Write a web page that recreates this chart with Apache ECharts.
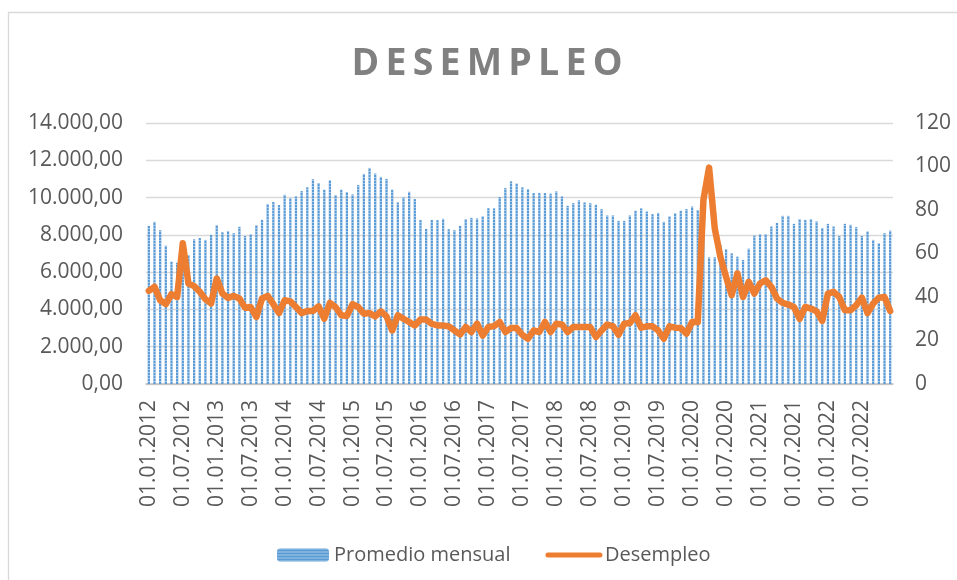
<!DOCTYPE html>
<html>
<head>
<meta charset="utf-8">
<title>DESEMPLEO</title>
<script src="https://cdn.jsdelivr.net/npm/echarts@6/dist/echarts.min.js"></script>
<style>
  html, body { margin: 0; padding: 0; background: #fff; }
  #chart { width: 957px; height: 580px; }
</style>
</head>
<body>
<div id="chart"></div>
<script>
// meses 01.01.2012 .. 01.12.2022
const months = [];
for (let y = 2012; y <= 2022; y++) {
  for (let m = 1; m <= 12; m++) {
    months.push('01.' + String(m).padStart(2, '0') + '.' + y);
  }
}

// Promedio mensual (eje izquierdo)
const promedioMensual = [
  8480, 8700, 8250, 7420, 6560, 6500, 6800, 6920, 7760, 7830, 7730, 8000,
  8520, 8140, 8210, 8090, 8430, 7940, 8030, 8520, 8800, 9650, 9760, 9600,
  10150, 9970, 10060, 10350, 10550, 10980, 10780, 10420, 10930, 10130, 10420, 10300,
  10170, 10670, 11270, 11590, 11290, 11110, 11000, 10420, 9740, 10010, 10310, 9920,
  8800, 8320, 8800, 8790, 8860, 8300, 8250, 8480, 8840, 8910, 8880, 8990,
  9430, 9420, 10030, 10510, 10870, 10750, 10550, 10460, 10240, 10240, 10240, 10210,
  10330, 10060, 9560, 9700, 9850, 9740, 9700, 9610, 9380, 9040, 9040, 8750,
  8750, 9040, 9290, 9420, 9250, 9110, 9180, 8700, 8990, 9160, 9290, 9380,
  9520, 9330, 9450, 6790, 6800, 7460, 7240, 7010, 6830, 6650, 7260, 7960,
  8030, 8030, 8450, 8640, 9020, 9020, 8590, 8840, 8800, 8840, 8720, 8370,
  8590, 8450, 7940, 8590, 8540, 8410, 7940, 8180, 7730, 7550, 8090, 8230
];

// Desempleo (eje derecho)
const desempleo = [
  42.8, 44.7, 38.5, 36.7, 41.3, 40.0, 64.7, 46.2, 45.0, 42.4, 39.0, 37.0,
  48.5, 41.6, 39.6, 40.5, 39.3, 35.1, 35.4, 30.8, 39.3, 40.5, 36.7, 32.6,
  38.5, 38.0, 35.4, 32.6, 33.6, 33.6, 35.7, 30.0, 37.3, 35.4, 31.6, 31.3,
  36.7, 35.4, 32.3, 32.6, 31.1, 33.4, 31.1, 24.6, 31.6, 30.0, 28.5, 26.9,
  29.6, 29.6, 27.7, 26.9, 26.9, 26.5, 24.6, 22.8, 26.2, 23.9, 27.7, 22.3,
  26.2, 26.6, 28.5, 23.9, 25.7, 25.7, 22.6, 20.8, 24.6, 23.9, 28.5, 23.9,
  27.7, 27.4, 23.9, 26.2, 26.2, 26.2, 26.2, 21.6, 24.6, 27.3, 26.6, 22.6,
  27.7, 28.0, 31.6, 25.9, 26.5, 26.5, 24.6, 20.8, 26.5, 25.9, 25.7, 23.1,
  28.5, 28.5, 84.7, 99.5, 71.6, 58.5, 49.3, 40.8, 50.8, 40.0, 47.0, 41.6,
  46.2, 47.7, 44.7, 39.3, 37.3, 36.5, 35.4, 30.0, 35.4, 34.7, 33.4, 29.0,
  41.6, 42.4, 40.0, 33.9, 33.9, 36.2, 39.7, 32.6, 37.0, 39.7, 40.0, 33.6
];

const leftTicks = { min: 0, max: 14000, interval: 2000 };
const rightTicks = { min: 0, max: 120, interval: 20 };

const fmtEs = (v) => {
  const s = String(Math.round(v)).replace(/\B(?=(\d{3})+(?!\d))/g, '.');
  return s + ',00';
};

const textColor = '#595959';
const font = '"Open Sans", "Liberation Sans", sans-serif';

const chart = echarts.init(document.getElementById('chart'));

const option = {
  backgroundColor: '#fff',
  animation: false,
  textStyle: { fontFamily: font },
  graphic: [
    {
      type: 'rect',
      shape: { x: 8.5, y: 12.5, width: 1000, height: 1000 },
      style: { fill: 'none', stroke: '#D9D9D9', lineWidth: 1.3 },
      silent: true
    }
  ],
  title: {
    text: 'D\u2009E\u2009S\u2009E\u2009M\u2009P\u2009L\u2009E\u2009O',
    left: 482,
    top: 40,
    textAlign: 'center',
    textStyle: {
      fontFamily: font,
      fontSize: 37.5,
      fontWeight: 'bold',
      color: '#808080'
    }
  },
  legend: {
    left: 272,
    top: 540,
    itemWidth: 52,
    itemHeight: 13,
    itemGap: 35,
    textStyle: { fontFamily: font, fontSize: 20, color: textColor },
    data: [
      'Promedio mensual',
      {
        name: 'Desempleo',
        itemStyle: { opacity: 0, color: 'rgba(0,0,0,0)', borderWidth: 0 },
        lineStyle: { color: '#ED7D31', width: 5, cap: 'round' }
      }
    ]
  },
  grid: {
    left: 146,
    right: 64,
    top: 123,
    bottom: 196,
    containLabel: false
  },
  xAxis: {
    type: 'category',
    data: months,
    boundaryGap: true,
    axisLine: { lineStyle: { color: '#BFBFBF', width: 1.5 } },
    axisTick: { show: false },
    axisLabel: {
      rotate: 90,
      margin: 16,
      fontSize: 21,
      color: textColor,
      fontFamily: font,
      interval: (i) => i % 6 === 0
    }
  },
  yAxis: [
    {
      type: 'value',
      min: leftTicks.min,
      max: leftTicks.max,
      interval: leftTicks.interval,
      axisLine: { show: false },
      axisTick: { show: false },
      splitLine: { lineStyle: { color: '#D9D9D9', width: 1.3 } },
      axisLabel: {
        margin: 23,
        fontSize: 21,
        color: textColor,
        fontFamily: font,
        formatter: fmtEs
      }
    },
    {
      type: 'value',
      min: rightTicks.min,
      max: rightTicks.max,
      interval: rightTicks.interval,
      axisLine: { show: false },
      axisTick: { show: false },
      splitLine: { show: false },
      axisLabel: {
        margin: 22,
        fontSize: 21,
        color: textColor,
        fontFamily: font
      }
    }
  ],
  series: [
    {
      name: 'Promedio mensual',
      type: 'bar',
      yAxisIndex: 0,
      barWidth: '40%',
      data: promedioMensual,
      itemStyle: {
        color: '#5B9BD5',
        decal: {
          symbol: 'rect',
          symbolSize: 1,
          color: 'rgba(255,255,255,0.45)',
          dashArrayX: [1, 0],
          dashArrayY: [1, 2],
          rotation: 0
        }
      }
    },
    {
      name: 'Desempleo',
      type: 'line',
      yAxisIndex: 1,
      data: desempleo,
      symbol: 'none',
      z: 5,
      lineStyle: { color: '#ED7D31', width: 6.5, cap: 'round', join: 'round' },
      itemStyle: { color: '#ED7D31' }
    }
  ]
};

chart.setOption(option);
</script>
</body>
</html>
